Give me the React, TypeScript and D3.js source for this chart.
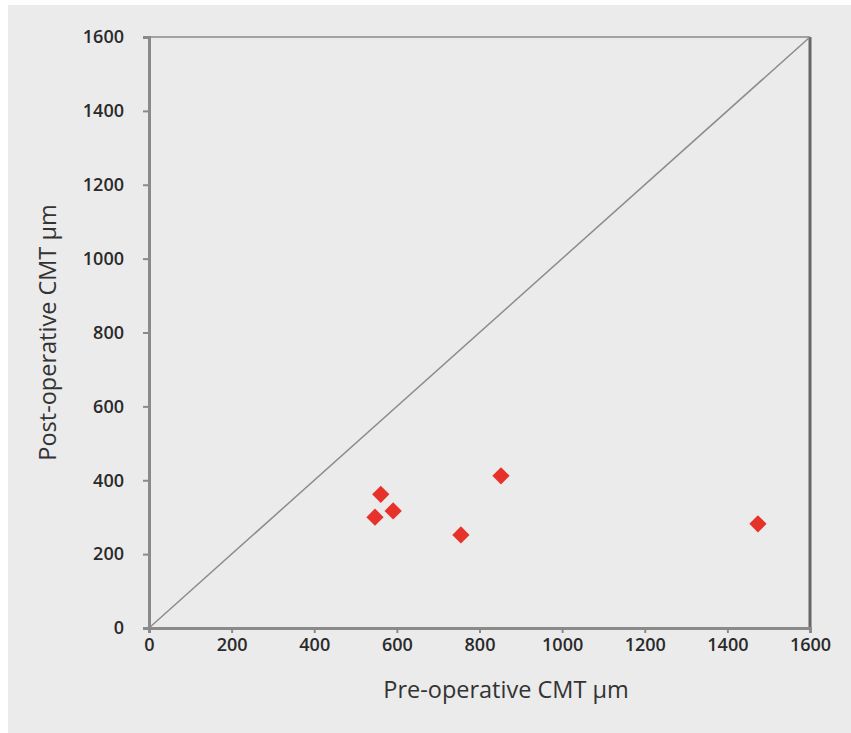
import React, { useEffect, useRef } from 'react';
import * as d3 from 'd3';

const preOp = [547, 561, 591, 755, 852, 1474];
const postOp = [300, 362, 317, 252, 412, 282];
const tickValues = [0, 200, 400, 600, 800, 1000, 1200, 1400, 1600];
const xTitle = 'Pre-operative CMT \u00b5m';
const yTitle = 'Post-operative CMT \u00b5m';

const W = 851;
const H = 733;

export default function App() {
  const ref = useRef<SVGSVGElement>(null);

  useEffect(() => {
    const svg = d3.select(ref.current);
    svg.selectAll('*').remove();

    const left = 149, right = 810, top = 37, bottom = 628;
    const x = d3.scaleLinear().domain([0, 1600]).range([left, right]);
    const y = d3.scaleLinear().domain([0, 1600]).range([bottom, top]);

    svg.append('rect')
      .attr('x', 8).attr('y', 5)
      .attr('width', W - 8).attr('height', H - 5)
      .attr('fill', '#ebebeb');

    // frame
    svg.append('line')
      .attr('x1', left).attr('x2', right).attr('y1', top).attr('y2', top)
      .attr('stroke', '#8a8a8a').attr('stroke-width', 1.5);
    svg.append('line')
      .attr('x1', right).attr('x2', right).attr('y1', top).attr('y2', bottom)
      .attr('stroke', '#666').attr('stroke-width', 3);

    // diagonal
    svg.append('line')
      .attr('x1', x(0)).attr('y1', y(0)).attr('x2', x(1600)).attr('y2', y(1600))
      .attr('stroke', '#8c8c8c').attr('stroke-width', 1.5);

    const font = '"Open Sans", "Liberation Sans", sans-serif';

    const yAxis = svg.append('g')
      .attr('transform', `translate(${left},0)`)
      .call(d3.axisLeft(y).tickValues(tickValues).tickSize(6).tickPadding(19).tickFormat(d3.format('d')));
    const xAxis = svg.append('g')
      .attr('transform', `translate(0,${bottom})`)
      .call(d3.axisBottom(x).tickValues(tickValues).tickSize(5).tickPadding(5).tickFormat(d3.format('d')));

    [xAxis, yAxis].forEach(g => {
      g.select('.domain').attr('stroke', '#8a8a8a').attr('stroke-width', 3);
      g.selectAll('.tick line').attr('stroke', '#8a8a8a').attr('stroke-width', 2);
      g.selectAll('.tick text')
        .attr('font-size', null)
        .attr('font-family', null)
        .attr('fill', '#2a2a2a')
        .style('font-family', font)
        .style('font-size', '18px')
        .style('font-weight', 600);
    });

    svg.append('g')
      .selectAll('path')
      .data(preOp)
      .enter()
      .append('path')
      .attr('transform', (d, i) => `translate(${x(d)},${y(postOp[i])})`)
      .attr('d', d3.symbol().type(d3.symbolDiamond2).size(190)())
      .attr('fill', '#e6322a');

    svg.append('text')
      .attr('x', 506).attr('y', 698)
      .attr('text-anchor', 'middle')
      .style('font-family', font).style('font-size', '23.5px')
      .attr('fill', '#333')
      .text(xTitle);

    svg.append('text')
      .attr('transform', `translate(56,${(top + bottom) / 2}) rotate(-90)`)
      .attr('text-anchor', 'middle')
      .style('font-family', font).style('font-size', '23.5px')
      .attr('fill', '#333')
      .text(yTitle);
  }, []);

  return (
    <svg ref={ref} width={W} height={H}
      style={{ position: 'absolute', left: 0, top: 0, background: '#fff' }} />
  );
}
